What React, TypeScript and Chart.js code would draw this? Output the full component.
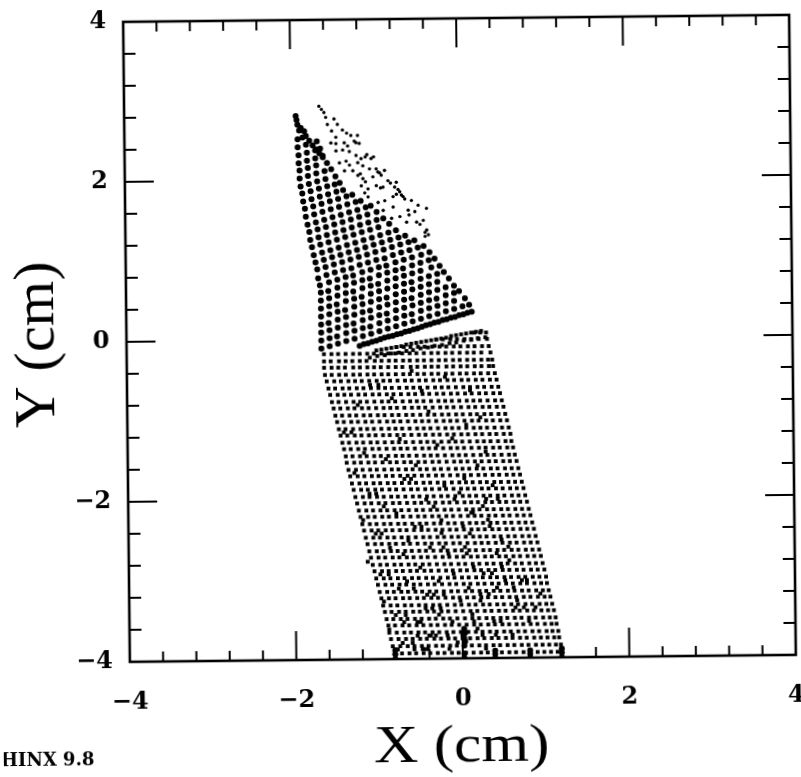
import React, { useEffect, useRef } from "react";
import { Chart, registerables } from "chart.js";

Chart.register(...registerables);

// All point values are estimates, in hundredths of a cm.
const rowY = [10, 2, -7, -15, -24, -32, -41, -49, -58, -66, -75, -83, -92, -100, -109, -117, -126, -134, -143, -151, -160, -168, -177, -185, -194, -202, -211, -219, -228, -236, -245, -253, -262, -270, -279, -287, -296, -304, -313, -321, -330, -338, -347, -355, -364, -372, -381, -390];

const rowX = [
  [16, 23, 30],
  [-30, -22, -13, -5, 4, 12, 21, 31],
  [-78, -69, -61, -52, -44, -35, -26, -18, -9, -1, 8, 16, 25, 33],
  [-165, -156, -148, -139, -130, -122, -113, -105, -96, -88, -79, -71, -62, -54, -45, -36, -28, -19, -11, -2, 7, 15, 24, 35],
  [-165, -157, -147, -139, -131, -122, -114, -104, -96, -87, -79, -70, -62, -53, -45, -36, -27, -19, -10, -2, 7, 15, 24, 32, 37],
  [-165, -156, -148, -140, -130, -122, -113, -105, -97, -88, -79, -71, -61, -53, -44, -36, -28, -18, -10, -1, 7, 16, 24, 33, 38],
  [-164, -156, -147, -139, -130, -122, -113, -105, -96, -88, -79, -70, -62, -53, -45, -36, -28, -19, -11, -2, 6, 15, 23, 32, 40],
  [-162, -153, -145, -136, -128, -120, -111, -102, -94, -86, -77, -68, -60, -51, -43, -34, -26, -17, -9, 0, 8, 17, 25, 34, 42],
  [-160, -152, -143, -135, -126, -118, -109, -100, -92, -84, -75, -66, -58, -50, -41, -32, -24, -16, -7, 2, 10, 19, 27, 36, 44],
  [-158, -149, -141, -133, -124, -116, -107, -99, -90, -82, -73, -64, -56, -47, -39, -30, -22, -13, -5, 4, 12, 21, 29, 38, 46],
  [-156, -148, -139, -130, -122, -114, -105, -96, -88, -80, -71, -62, -54, -46, -37, -28, -20, -12, -3, 6, 14, 22, 31, 40, 48],
  [-154, -146, -137, -129, -120, -112, -103, -94, -86, -78, -69, -60, -52, -44, -35, -26, -18, -10, -1, 8, 16, 25, 33, 42, 50],
  [-152, -144, -135, -127, -118, -110, -101, -93, -84, -76, -67, -59, -50, -41, -33, -24, -16, -7, 1, 10, 18, 27, 35, 44, 52],
  [-150, -142, -133, -125, -116, -108, -99, -90, -82, -74, -65, -56, -48, -40, -31, -22, -14, -6, 3, 12, 20, 29, 37, 46, 54],
  [-148, -140, -131, -122, -114, -106, -97, -88, -80, -72, -63, -54, -46, -38, -29, -20, -12, -4, 5, 14, 22, 30, 39, 48, 56],
  [-146, -138, -129, -121, -112, -104, -95, -87, -78, -70, -61, -52, -44, -35, -27, -18, -10, -1, 7, 16, 24, 33, 41, 50, 58],
  [-144, -136, -127, -119, -110, -102, -93, -84, -76, -68, -59, -50, -42, -34, -25, -16, -8, 0, 9, 18, 26, 34, 43, 52, 59],
  [-142, -134, -125, -117, -108, -100, -91, -82, -74, -66, -57, -48, -40, -32, -23, -14, -6, 2, 11, 20, 28, 37, 45, 54, 61],
  [-140, -132, -123, -115, -106, -98, -89, -80, -72, -64, -55, -46, -38, -30, -21, -12, -4, 4, 13, 22, 30, 38, 47, 56, 63],
  [-139, -130, -122, -113, -105, -96, -87, -79, -70, -62, -53, -45, -36, -28, -19, -10, -2, 6, 15, 23, 32, 40, 49, 57, 65],
  [-137, -128, -120, -111, -103, -94, -85, -77, -68, -60, -51, -43, -34, -26, -17, -8, 0, 8, 17, 25, 34, 42, 51, 59, 67],
  [-135, -126, -118, -109, -101, -92, -84, -75, -66, -58, -49, -41, -32, -24, -15, -6, 2, 10, 19, 27, 36, 44, 53, 61, 69],
  [-133, -124, -116, -107, -99, -90, -82, -73, -64, -56, -47, -39, -30, -22, -13, -4, 4, 12, 21, 29, 38, 46, 55, 63, 71],
  [-131, -122, -114, -105, -97, -88, -80, -71, -62, -54, -45, -37, -28, -20, -11, -2, 6, 14, 23, 31, 40, 48, 57, 65, 73],
  [-129, -120, -112, -103, -95, -86, -78, -69, -60, -52, -43, -35, -26, -18, -9, 0, 8, 16, 25, 33, 42, 50, 59, 67, 75],
  [-127, -118, -110, -101, -93, -84, -76, -67, -58, -50, -41, -33, -24, -16, -7, 2, 10, 18, 27, 35, 44, 52, 61, 69, 77],
  [-125, -116, -108, -99, -91, -82, -74, -65, -56, -48, -39, -31, -22, -14, -5, 4, 12, 20, 29, 37, 46, 54, 63, 71, 79],
  [-123, -114, -106, -97, -89, -80, -72, -63, -54, -46, -37, -29, -20, -12, -3, 6, 14, 22, 31, 39, 48, 56, 65, 73, 81],
  [-121, -112, -104, -95, -87, -78, -70, -61, -52, -44, -35, -27, -18, -10, -1, 8, 16, 24, 33, 41, 50, 58, 67, 75, 83],
  [-119, -110, -102, -93, -85, -76, -68, -59, -50, -42, -33, -25, -16, -8, 1, 10, 18, 26, 35, 43, 52, 60, 69, 77, 85],
  [-117, -108, -100, -91, -83, -74, -66, -57, -48, -40, -31, -23, -14, -6, 3, 12, 20, 28, 37, 45, 54, 62, 71, 79, 87],
  [-115, -106, -98, -89, -81, -72, -64, -55, -46, -38, -29, -21, -12, -4, 5, 14, 22, 30, 39, 47, 56, 64, 73, 81, 89],
  [-113, -104, -96, -87, -79, -70, -62, -53, -45, -36, -27, -19, -10, -2, 7, 15, 24, 32, 41, 49, 58, 66, 75, 83, 91],
  [-111, -102, -94, -85, -77, -68, -60, -51, -43, -34, -25, -17, -8, 0, 9, 17, 26, 34, 43, 51, 60, 68, 77, 85, 93],
  [-109, -100, -92, -83, -75, -66, -58, -49, -41, -32, -23, -15, -6, 2, 11, 19, 28, 36, 45, 53, 62, 70, 79, 87, 95],
  [-107, -98, -90, -81, -73, -64, -56, -47, -39, -30, -21, -13, -4, 4, 13, 21, 30, 38, 47, 55, 64, 72, 81, 89, 97],
  [-105, -96, -88, -79, -71, -62, -54, -45, -37, -28, -19, -11, -2, 6, 15, 23, 32, 40, 49, 57, 66, 74, 83, 91, 99],
  [-103, -94, -86, -77, -69, -60, -52, -43, -35, -26, -17, -9, 0, 8, 17, 25, 34, 42, 51, 59, 68, 76, 85, 93, 100],
  [-101, -92, -84, -75, -67, -58, -50, -41, -33, -24, -15, -7, 2, 10, 19, 27, 36, 44, 53, 61, 70, 78, 87, 95, 102],
  [-99, -90, -82, -73, -65, -56, -48, -39, -31, -22, -13, -5, 4, 12, 21, 29, 38, 46, 55, 63, 72, 80, 89, 97, 104],
  [-97, -88, -80, -71, -63, -54, -46, -37, -29, -20, -11, -3, 6, 14, 23, 31, 40, 48, 57, 65, 74, 82, 91, 99, 106],
  [-95, -87, -78, -70, -61, -53, -44, -36, -27, -19, -10, -1, 8, 16, 25, 33, 42, 50, 59, 67, 76, 84, 93, 101, 108],
  [-93, -85, -76, -68, -59, -51, -42, -34, -25, -17, -8, 1, 10, 18, 27, 35, 44, 52, 61, 69, 78, 86, 95, 103, 110],
  [-91, -83, -74, -66, -57, -49, -40, -32, -23, -15, -6, 3, 12, 20, 29, 37, 46, 54, 63, 71, 80, 88, 97, 105, 111],
  [-90, -81, -72, -64, -55, -47, -38, -30, -21, -13, -4, 5, 14, 22, 31, 39, 48, 56, 65, 73, 82, 90, 99, 106, 113],
  [-88, -79, -70, -62, -53, -45, -36, -28, -19, -11, -2, 7, 16, 24, 33, 41, 50, 58, 67, 75, 84, 92, 100, 108, 114],
  [-86, -77, -68, -60, -51, -43, -34, -26, -17, -9, 0, 9, 18, 26, 35, 43, 52, 60, 69, 77, 86, 94, 102, 110, 116],
  [-84, -75, -66, -58, -49, -41, -32, -24, -15, -7, 2, 11, 20, 28, 37, 45, 54, 62, 71, 79, 88, 96, 104, 112, 117],
];

// x, y, x, y ... along the tilted top edge of the lower block, just under the white gap
const edgeXY = [
  -102,-11,-96,-10,-90,-9,-84,-8,-78,-7,-72,-6,-66,-4,-60,-3,-54,-2,-48,-1,-42,0,-36,1,-30,2,-24,3,-18,4,-12,6,-6,7,0,8,6,9,12,10,18,11,24,12,
  -110,-20,-101,-18,-92,-17,-84,-15,-75,-14,-66,-12,-58,-11,-49,-9,-40,-8,-32,-6,-23,-5,-14,-3,-6,-2,3,0,12,1,20,3,29,4,
];

// Short dashes and clots where the lower lattice prints heavier
const dashX = [-110, -100, -60, -20, 10, -125, -84, -48, -40, 22, -142, -133, -75, -30, 5, -118, -92, -56, -12, 28, -130, -70, -62, -22, 18, -112, -104, -44, 2, 36, -95, -80, -35, -4, 42, -120, -58, -50, 12, 24, -105, -98, -66, -26, 32, -88, -72, -40, 8, 46, -115, -52, -18, 2, 40, -100, -90, -30, 12, 55, -78, -60, -24, 24, 50, -96, -46, -38, 6, 30, -82, -70, -14, 20, 62, -90, -56, -34, 10, 44, -74, -62, -20, 16, 58, -80, -50, -8, 26, 38, -68, -44, -28, 34, 70, -72, -40, -12, 22, 64, -56, -30, -4, 40, 78, -60, -24, 4, 30, 72, -48, -36, 12, 46, 86, -52, -18, 20, 36, 60, -42, -26, 0, 54, 92, -44, -10, 10, 28, 76];
const dashY = [-54, -54, -37, -45, -62, -79, -71, -62, -88, -96, -113, -113, -122, -130, -105, -139, -147, -155, -122, -139, -164, -172, -172, -181, -156, -190, -190, -198, -172, -181, -206, -215, -207, -190, -198, -223, -232, -232, -215, -207, -240, -240, -249, -224, -232, -258, -266, -258, -241, -249, -275, -283, -266, -258, -266, -291, -291, -300, -283, -275, -309, -309, -317, -291, -300, -325, -334, -334, -309, -317, -342, -342, -351, -325, -334, -360, -351, -368, -342, -351, -377, -377, -368, -360, -368, -385, -385, -377, -385, -368, -300, -317, -334, -291, -300, -351, -368, -291, -368, -325, -368, -342, -325, -309, -351, -385, -258, -266, -224, -334, -385, -317, -351, -283, -334, -351, -385, -317, -351, -309, -368, -240, -232, -258, -317, -385, -198, -215, -198, -300];

// x, y, x, y ... along the tilted bands of the dark upper fan
const darkXY = [
  -122,-5,-117,-3,-112,-2,-107,0,-102,1,-97,3,-92,5,-87,6,-82,7,-77,9,-72,10,-67,12,-62,13,-57,15,-52,16,-47,18,-42,20,-37,21,-32,23,-27,24,-22,26,-17,27,-12,29,-7,30,-2,32,3,33,8,35,13,36,
  -168,-8,-158,-5,-148,-2,-138,1,-128,4,-118,7,-108,10,-98,13,-88,16,-78,19,-68,22,-58,25,-48,28,-38,31,-28,34,-18,37,-8,40,2,43,10,45,
  -168,2,-158,5,-149,7,-138,11,-128,14,-118,17,-109,19,-98,23,-88,26,-78,29,-68,32,-59,34,-48,38,-38,41,-28,44,-18,47,-8,50,5,53,
  -168,12,-158,15,-148,18,-138,21,-129,23,-118,27,-108,30,-98,33,-89,35,-78,39,-68,42,-58,45,-48,48,-38,51,-29,53,-18,57,-8,60,-2,62,
  -168,22,-159,24,-148,28,-138,31,-128,34,-118,37,-109,39,-98,43,-88,46,-78,49,-68,52,-59,54,-48,58,-38,61,-28,64,-18,67,-8,69,
  -168,32,-158,35,-148,38,-139,40,-128,44,-118,47,-108,50,-98,53,-89,55,-78,59,-68,62,-58,65,-48,68,-38,71,-28,74,-14,78,
  -168,42,-158,45,-149,47,-138,51,-128,54,-119,56,-108,60,-98,63,-88,66,-78,69,-68,72,-59,74,-48,78,-38,81,-28,84,-20,86,
  -168,52,-158,55,-148,58,-138,61,-129,63,-118,67,-108,70,-99,72,-88,76,-78,79,-68,82,-58,85,-48,88,-35,92,-25,94,
  -168,62,-159,64,-148,68,-138,71,-128,74,-118,77,-109,79,-98,83,-88,86,-78,89,-69,91,-58,95,-48,98,-38,101,-31,103,
  -169,71,-158,75,-148,78,-138,81,-129,83,-118,87,-108,90,-98,93,-89,95,-78,99,-68,102,-58,105,-47,108,-37,111,
  -171,80,-161,84,-151,87,-141,90,-131,92,-121,96,-111,99,-101,102,-91,104,-81,108,-71,111,-61,114,-51,117,-44,119,
  -172,91,-162,94,-152,97,-142,100,-132,103,-122,106,-112,109,-102,112,-92,115,-82,118,-72,121,-62,124,-55,126,
  -174,100,-164,103,-154,106,-144,109,-134,112,-124,115,-114,118,-104,121,-94,124,-84,127,-74,130,-66,132,
  -176,109,-166,112,-156,115,-146,118,-136,121,-126,124,-116,127,-106,130,-96,133,-86,136,-77,139,
  -178,119,-168,122,-158,125,-148,128,-138,131,-128,134,-118,137,-108,140,-98,143,-85,147,
  -180,128,-170,131,-160,134,-150,137,-140,140,-130,143,-120,146,-110,149,-100,152,-92,154,
  -181,138,-171,141,-161,144,-151,147,-141,150,-131,153,-121,156,-111,159,-100,162,
  -183,147,-173,150,-163,153,-153,156,-143,159,-133,162,-123,165,-113,168,-107,170,
  -185,157,-175,160,-165,163,-155,166,-145,169,-135,172,-125,175,-119,176,
  -186,167,-176,170,-166,173,-156,176,-146,179,-136,182,-129,184,
  -188,176,-178,179,-168,182,-158,185,-148,188,-140,190,
  -189,186,-179,189,-169,192,-159,195,-150,197,-144,199,
  -191,195,-181,198,-171,201,-161,204,-149,207,
  -192,205,-182,208,-172,211,-162,214,-154,216,
  -192,215,-182,218,-172,221,-159,224,
  -193,224,-183,227,-173,230,-164,233,
  -193,234,-183,237,-173,240,-167,242,
  -194,244,-184,247,-171,251,
  -184,258,-180,252,-176,246,-172,241,-168,236,-164,231,
  -194,254,-188,256,-186,264,-190,268,
  -196,283,-195,278,-194,272,-192,265,
];

const lightX = [-168, -165, -162, -160, -158, -153, -148, -150, -146, -140, -135, -130, -122, -154, -148, -138, -134, -124, -120, -148, -140, -132, -124, -118, -111, -106, -144, -136, -132, -122, -116, -108, -100, -98, -90, -138, -128, -122, -116, -104, -94, -86, -76, -118, -110, -100, -92, -78, -80, -72, -110, -98, -90, -80, -68, -58, -50, -40, -92, -82, -72, -62, -54, -64, -52, -44, -40, -42, -38, -126, -113, -103, -119, -113, -95, -83, -74, -70, -114, -96, -76, -66, -61, -48, -42];
const lightY = [295, 291, 287, 281, 272, 264, 256, 279, 272, 265, 261, 258, 258, 249, 248, 249, 245, 249, 248, 239, 240, 238, 233, 229, 234, 229, 224, 226, 221, 224, 220, 216, 216, 212, 214, 214, 214, 208, 204, 206, 208, 201, 199, 195, 191, 195, 193, 193, 181, 187, 181, 174, 176, 168, 181, 176, 170, 166, 164, 154, 156, 164, 162, 149, 149, 151, 139, 131, 133, 251, 231, 231, 210, 200, 192, 198, 190, 183, 186, 211, 184, 178, 158, 146, 136];

// Heavy blot near the bottom centre and the little spikes where marks meet the axis
const clumpX = [0, 1, -1, 0, 1, 0, -83, -83, -83, 37, 37, 37, 79, 79, 79, 117, 117, 117, 0, 0];
const clumpY = [-360, -365, -368, -372, -376, -381, -386, -391, -397, -388, -392, -397, -388, -392, -397, -386, -391, -397, -391, -397];

// The scan reads about this far off the printed axes, in hundredths of a cm
const readingShiftX = 2;
const readingShiftY = -3;

const xMin = -4;
const xMax = 4;
const yMin = -4;
const yMax = 4;
const tickStep = 0.4;
const axisLabelEvery = 2;
const xTitle = "X (cm)";
const yTitle = "Y (cm)";
const versionNote = "HINX 9.8";

type P = { x: number; y: number };
const toPoint = (x: number, y: number): P => ({ x: (x + readingShiftX) / 100, y: (y + readingShiftY) / 100 });
const fromPairs = (flat: number[]) => {
  const out: P[] = [];
  for (let i = 0; i < flat.length; i += 2) out.push(toPoint(flat[i], flat[i + 1]));
  return out;
};
const lowerPoints = [
  ...rowY.flatMap((y, i) => rowX[i].map((x) => toPoint(x, y))),
  ...fromPairs(edgeXY),
  ...dashX.map((x, i) => toPoint(x, dashY[i])),
];
const darkPoints = fromPairs(darkXY);
const lightPoints = lightX.map((x, i) => toPoint(x, lightY[i]));
const clumpPoints = clumpX.map((x, i) => toPoint(x, clumpY[i]));

const isLabelled = (v: number) => Math.abs(v / axisLabelEvery - Math.round(v / axisLabelEvery)) < 1e-6;

const framePlugin = {
  id: "frameAndInsideTicks",
  afterDatasetsDraw(chart: any) {
    const { ctx, chartArea: a, scales } = chart;
    ctx.save();
    ctx.strokeStyle = "#000";
    ctx.lineWidth = 2.6;
    ctx.strokeRect(a.left, a.top, a.right - a.left, a.bottom - a.top);
    ctx.lineWidth = 2;
    ctx.beginPath();
    for (const t of scales.x.ticks) {
      if (Math.abs(Math.abs(t.value) - 4) < 1e-6) continue;
      const px = scales.x.getPixelForValue(t.value);
      const len = isLabelled(t.value) ? 29 : 10;
      ctx.moveTo(px, a.top);
      ctx.lineTo(px, a.top + len);
      ctx.moveTo(px, a.bottom);
      ctx.lineTo(px, a.bottom - len);
    }
    for (const t of scales.y.ticks) {
      if (Math.abs(Math.abs(t.value) - 4) < 1e-6) continue;
      const py = scales.y.getPixelForValue(t.value);
      const len = isLabelled(t.value) ? 29 : 12;
      ctx.moveTo(a.left, py);
      ctx.lineTo(a.left + len, py);
      ctx.moveTo(a.right, py);
      ctx.lineTo(a.right - len, py);
    }
    ctx.stroke();

    ctx.fillStyle = "#000";
    ctx.textAlign = "center";
    ctx.textBaseline = "middle";
    ctx.save();
    ctx.translate(458, 748);
    ctx.scale(1.18, 1);
    ctx.font = '52px "Liberation Serif"';
    ctx.fillText(xTitle, 0, 0);
    ctx.restore();
    ctx.save();
    ctx.translate(39, 341);
    ctx.rotate(-Math.PI / 2);
    ctx.scale(1.04, 1);
    ctx.font = '56px "Liberation Serif"';
    ctx.fillText(yTitle, 0, 0);
    ctx.restore();
    ctx.textAlign = "left";
    ctx.font = 'bold 18px "DejaVu Serif"';
    ctx.fillText(versionNote, -3, 757);
    ctx.restore();
  },
};

const pointStyle = (data: P[], radius: number, shape: string) => ({
  data,
  pointStyle: shape,
  pointRadius: radius,
  pointHoverRadius: radius,
  pointBorderWidth: 0,
  pointBackgroundColor: "#000",
  showLine: false,
});

export default function App() {
  const ref = useRef<HTMLCanvasElement>(null);
  useEffect(() => {
    const tickFont = { family: '"DejaVu Serif"', size: 24, weight: "bold" as const };
    const label = (v: number | string) => {
      const n = Number(v);
      if (!isLabelled(n)) return "";
      const r = Math.round(n);
      return r < 0 ? `\u2212${-r}` : `${r}`;
    };
    const chart = new Chart(ref.current!, {
      type: "scatter",
      data: {
        datasets: [
          pointStyle(lowerPoints, 2.7, "rect"),
          pointStyle(darkPoints, 3, "circle"),
          pointStyle(lightPoints, 1.7, "circle"),
          pointStyle(clumpPoints, 3, "circle"),
        ],
      },
      plugins: [framePlugin],
      options: {
        animation: false,
        responsive: false,
        devicePixelRatio: 1,
        layout: { padding: { top: 19, right: 8, left: 0, bottom: 0 } },
        plugins: { legend: { display: false }, tooltip: { enabled: false } },
        scales: {
          x: {
            type: "linear",
            min: xMin,
            max: xMax,
            grid: { display: false, drawTicks: false },
            border: { display: false },
            ticks: { stepSize: tickStep, autoSkip: false, maxRotation: 0, padding: 26, color: "#000", font: tickFont, callback: label },
            afterFit(s: any) {
              s.height = 118;
              s.paddingLeft = 0;
              s.paddingRight = 0;
            },
          },
          y: {
            type: "linear",
            min: yMin,
            max: yMax,
            grid: { display: false, drawTicks: false },
            border: { display: false },
            ticks: { stepSize: tickStep, autoSkip: false, padding: 17, color: "#000", font: tickFont, callback: label },
            afterFit(s: any) {
              s.width = 127;
              s.paddingTop = 0;
              s.paddingBottom = 0;
            },
          },
        },
      },
    } as any);
    return () => chart.destroy();
  }, []);
  return (
    <div style={{ position: "fixed", left: 0, top: 0, width: 801, height: 777, overflow: "hidden", background: "#fff" }}>
      <canvas
        ref={ref}
        width={801}
        height={777}
        style={{ display: "block", width: 801, height: 777, transform: "rotate(-0.6deg)", transformOrigin: "400px 388px" }}
      />
    </div>
  );
}
